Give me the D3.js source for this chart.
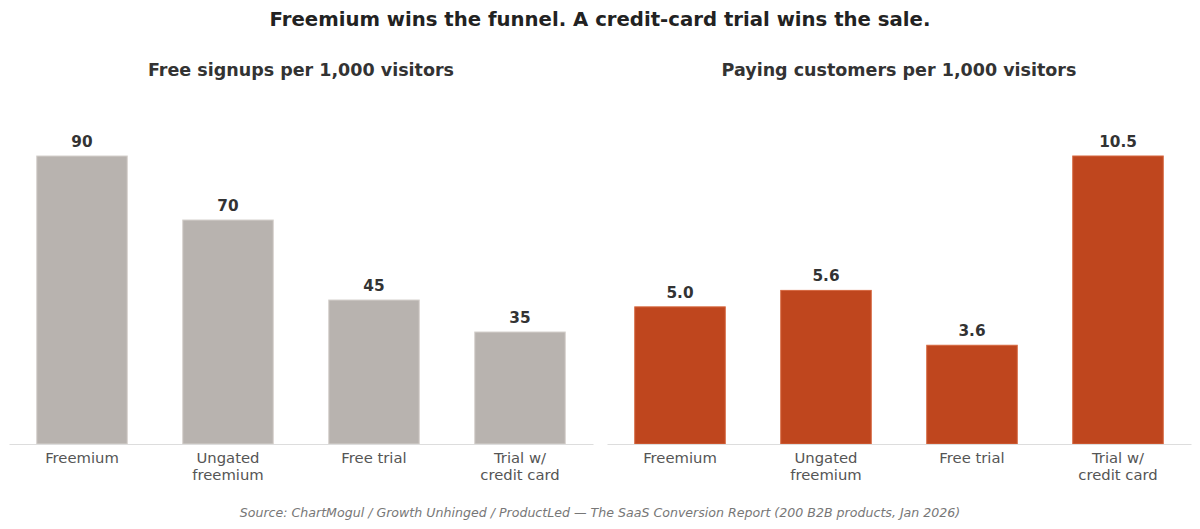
<!DOCTYPE html>
<html>
<head>
<meta charset="utf-8">
<script src="https://cdn.jsdelivr.net/npm/d3@7"></script>
<style>
  body { margin: 0; background: #fff; }
  text { font-family: "DejaVu Sans", sans-serif; }
</style>
</head>
<body>
<div id="chart"></div>
<script>
// data
const categories = ["Freemium", "Ungated\nfreemium", "Free trial", "Trial w/\ncredit card"];
const signups = [90, 70, 45, 35];
const paying = [5.0, 5.6, 3.6, 10.5];
const signupLabels = ["90", "70", "45", "35"];
const payingLabels = ["5.0", "5.6", "3.6", "10.5"];

const W = 1200, H = 529;
const svg = d3.select("#chart").append("svg")
    .attr("width", W)
    .attr("height", H);

svg.append("text")
    .attr("x", W / 2)
    .attr("y", 26)
    .attr("text-anchor", "middle")
    .attr("font-size", 19.7)
    .attr("font-weight", "bold")
    .attr("fill", "#222")
    .text("Freemium wins the funnel. A credit-card trial wins the sale.");

svg.append("text")
    .attr("x", W / 2)
    .attr("y", 517)
    .attr("text-anchor", "middle")
    .attr("font-size", 12.6)
    .attr("font-style", "italic")
    .attr("fill", "#777")
    .text("Source: ChartMogul / Growth Unhinged / ProductLed \u2014 The SaaS Conversion Report (200 B2B products, Jan 2026)");

function drawPanel(x0, x1, title, values, labels, maxVal, color, edge) {
    const baseY = 444, topY = 156;
    const g = svg.append("g");

    const x = d3.scaleBand()
        .domain(categories)
        .range([x0, x1])
        .paddingInner(0.38)
        .paddingOuter(0.19);

    const y = d3.scaleLinear()
        .domain([0, maxVal])
        .range([baseY, topY]);

    g.append("text")
        .attr("x", (x0 + x1) / 2)
        .attr("y", 76)
        .attr("text-anchor", "middle")
        .attr("font-size", 17.5)
        .attr("font-weight", "bold")
        .attr("fill", "#333")
        .text(title);

    g.selectAll("rect")
        .data(values)
        .enter().append("rect")
        .attr("x", (d, i) => x(categories[i]))
        .attr("y", d => y(d))
        .attr("width", x.bandwidth())
        .attr("height", d => baseY - y(d))
        .attr("fill", color)
        .attr("stroke", edge)
        .attr("stroke-width", 1);

    g.selectAll("text.val")
        .data(values)
        .enter().append("text")
        .attr("class", "val")
        .attr("x", (d, i) => x(categories[i]) + x.bandwidth() / 2)
        .attr("y", d => y(d) - 9)
        .attr("text-anchor", "middle")
        .attr("font-size", 15.3)
        .attr("font-weight", "bold")
        .attr("fill", "#333")
        .text((d, i) => labels[i]);

    // baseline, no ticks
    const axis = g.append("g")
        .attr("transform", `translate(0,${baseY})`)
        .call(d3.axisBottom(x).tickSize(0).tickFormat(""));
    axis.select(".domain").attr("stroke", "#dddddd").attr("stroke-width", 1.2);

    // tick labels, multi-line
    g.selectAll("text.cat")
        .data(categories)
        .enter().append("text")
        .attr("class", "cat")
        .attr("x", d => x(d) + x.bandwidth() / 2)
        .attr("y", 462.5)
        .attr("text-anchor", "middle")
        .attr("font-size", 14.8)
        .attr("fill", "#555")
        .each(function(d) {
            const lines = d.split("\n");
            d3.select(this).selectAll("tspan")
                .data(lines)
                .enter().append("tspan")
                .attr("x", x(d) + x.bandwidth() / 2)
                .attr("dy", (l, i) => i === 0 ? 0 : 17)
                .text(l => l);
        });
}

drawPanel(9, 593, "Free signups per 1,000 visitors", signups, signupLabels, 90, "#b8b3af", "#d6d2ce");
drawPanel(607, 1191, "Paying customers per 1,000 visitors", paying, payingLabels, 10.5, "#bf461e", "#d6673f");
</script>
</body>
</html>
